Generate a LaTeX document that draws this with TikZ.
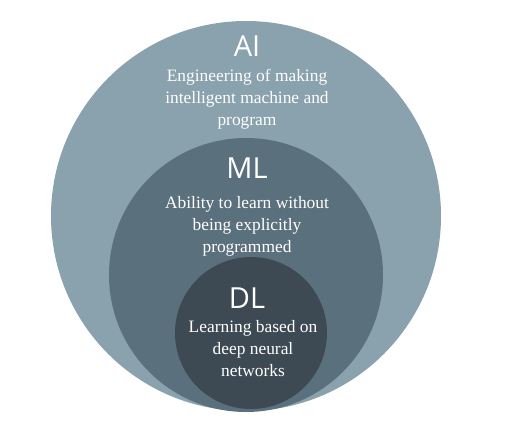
\documentclass[tikz,border=0pt]{standalone}
\usepackage{fontspec}
\setmainfont{Liberation Serif}
\newfontfamily\headfont{Open Sans}
\usepackage{tikz}
\usetikzlibrary{positioning}
\definecolor{aigrey}{HTML}{8AA1AE}
\definecolor{mlgrey}{HTML}{5B707D}
\definecolor{dlgrey}{HTML}{3D4A53}

\begin{document}
\begin{tikzpicture}[x=1pt,y=-1pt,
  setbox/.style={circle,draw=none,inner sep=0pt},
  head/.style={text=white,font=\headfont\fontsize{29}{32}\selectfont},
  blurb/.style={text=white,align=center,font=\fontsize{17.4}{22}\selectfont}]
\useasboundingbox (0,0) rectangle (514,428);
% nested sets
\foreach \n/\cx/\cy/\d/\col in {ai/246/216/390/aigrey,ml/246/275/274/mlgrey,dl/251/333/152/dlgrey}{
  \node[setbox,fill=\col,minimum size=\d] (\n) at (\cx,\cy) {};
}
\node[head] (aihead) at (247,46) {AI};
\node[blurb] (aitext) at (247,99) {Engineering of making\\intelligent machine and\\program};
\node[head] (mlhead) at (247,168) {ML};
\node[blurb] (mltext) at (247,226) {Ability to learn without\\being explicitly\\programmed};
\node[head] (dlhead) at (247,298) {DL};
\node[blurb] (dltext) at (253,349) {Learning based on\\deep neural\\networks};
\end{tikzpicture}
\end{document}
